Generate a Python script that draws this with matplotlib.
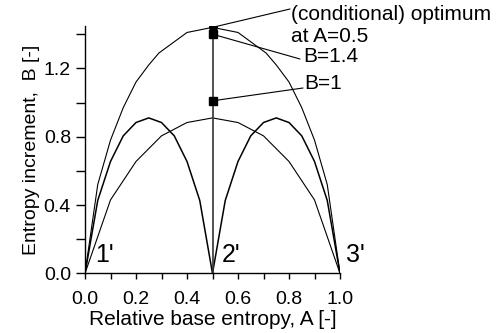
import matplotlib
matplotlib.use("Agg")
import matplotlib.pyplot as plt
import numpy as np

plt.rcParams['font.family'] = ['Liberation Sans', 'DejaVu Sans']

# upper curve
a_top = [0, 0.05, 0.1, 0.15, 0.2, 0.25, 0.29, 0.4, 0.5, 0.6, 0.71, 0.75, 0.8, 0.85, 0.9, 0.95, 1.0]
b_top = [0, 0.52, 0.78, 0.97, 1.12, 1.22, 1.29, 1.41, 1.44, 1.41, 1.29, 1.22, 1.12, 0.97, 0.78, 0.52, 0]

# middle (single hump) curve
a_mid = [0, 0.1, 0.2, 0.3, 0.4, 0.5, 0.6, 0.7, 0.8, 0.9, 1.0]
b_mid = [0, 0.43, 0.655, 0.805, 0.883, 0.91, 0.883, 0.805, 0.655, 0.43, 0]

# two humps curve
a_two = [0, 0.05, 0.1, 0.15, 0.2, 0.25, 0.3, 0.35, 0.4, 0.45, 0.5,
         0.55, 0.6, 0.65, 0.7, 0.75, 0.8, 0.85, 0.9, 0.95, 1.0]
b_two = [0, 0.427, 0.655, 0.805, 0.883, 0.91, 0.883, 0.805, 0.655, 0.427, 0,
         0.427, 0.655, 0.805, 0.883, 0.91, 0.883, 0.805, 0.655, 0.427, 0]

# points at A=0.5
opt_a = 0.5
opt_b = 1.44
b_marks = [1.40, 1.01]

fig = plt.figure(figsize=(5, 3.33), dpi=100)
ax = fig.add_axes([0.17, 0.179, 0.51, 0.744])

ax.plot(a_top, b_top, color='black', lw=0.8)
ax.plot(a_mid, b_mid, color='black', lw=0.8)
ax.plot(a_two, b_two, color='black', lw=1.1)
ax.plot([opt_a, opt_a], [0, opt_b], color='#333333', lw=1.2)

ax.plot([opt_a], [opt_b], 'o', color='black', ms=5.5)
ax.plot([opt_a] * len(b_marks), b_marks, 's', color='black', ms=5.5)

# leader lines to the labels (ends in figure pixels)
ends = [(290, 324), (300, 274), (303, 245)]
for yb, end in zip([opt_b] + b_marks, ends):
    ax.annotate('', xy=(opt_a, yb), xytext=end, textcoords='figure pixels',
                arrowprops=dict(arrowstyle='-', color='black', lw=0.8, shrinkA=0, shrinkB=0),
                annotation_clip=False)

fig.text(291 / 500, 1 - 15 / 333, '(conditional) optimum', fontsize=15,
         ha='left', va='center')
fig.text(291 / 500, 1 - 37 / 333, 'at A=0.5', fontsize=15, ha='left', va='center')
fig.text(303 / 500, 1 - 57 / 333, 'B=1.4', fontsize=15, ha='left', va='center')
fig.text(304 / 500, 1 - 83 / 333, 'B=1', fontsize=15, ha='left', va='center')

ax.text(0.04, 0.035, "1'", fontsize=18, ha='left', va='bottom')
ax.text(0.535, 0.035, "2'", fontsize=18, ha='left', va='bottom')
ax.text(1.025, 0.035, "3'", fontsize=18, ha='left', va='bottom')

ax.set_xlim(0, 1.0)
ax.set_ylim(0, 1.45)
ax.set_xticks(np.arange(0, 1.01, 0.2))
ax.set_xticks(np.arange(0.1, 1.0, 0.2), minor=True)
ax.set_yticks([0, 0.4, 0.8, 1.2])
ax.set_yticks([0.2, 0.6, 1.0, 1.4], minor=True)
ax.set_xticklabels(['0.0', '0.2', '0.4', '0.6', '0.8', '1.0'])
ax.set_yticklabels(['0.0', '0.4', '0.8', '1.2'])
ax.tick_params(axis='x', which='both', direction='out', labelsize=14, length=4, width=1, pad=8.5)
ax.tick_params(axis='y', which='both', direction='out', labelsize=14, length=6.5, width=1, pad=3.6)

for s in ['top', 'right']:
    ax.spines[s].set_visible(False)
for s in ['left', 'bottom']:
    ax.spines[s].set_linewidth(1.0)

ax.set_xlabel('Relative base entropy, A [-]', fontsize=15, labelpad=1.5)
ax.set_ylabel('Entropy increment,  B [-]', fontsize=14, labelpad=3)

fig.savefig('out.png', dpi=100)
